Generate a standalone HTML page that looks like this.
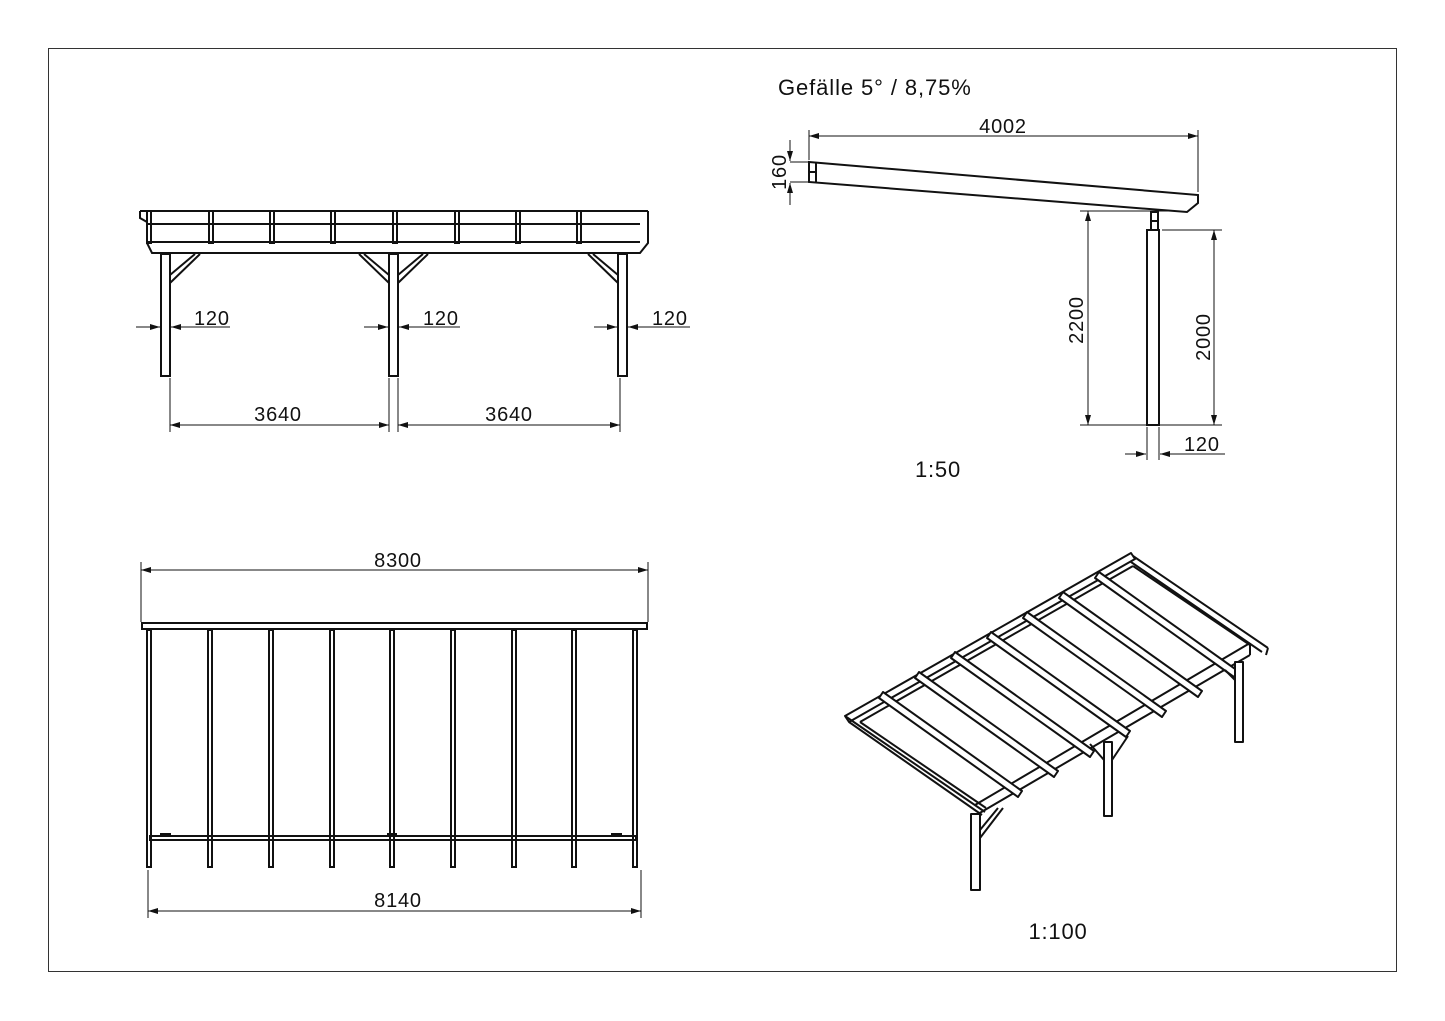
<!DOCTYPE html>
<html><head><meta charset="utf-8"><style>
html,body{margin:0;padding:0;background:#fff;}
svg{display:block;}
text{font-family:"Liberation Sans","DejaVu Sans",sans-serif;fill:#111;}
.d{font-size:20px;letter-spacing:0.8px;}
</style></head><body>
<svg width="1445" height="1021" viewBox="0 0 1445 1021" xmlns="http://www.w3.org/2000/svg">
<defs>
<marker id="ar" viewBox="0 0 10 6" refX="10" refY="3" markerWidth="10" markerHeight="6" orient="auto-start-reverse" markerUnits="userSpaceOnUse"><path d="M0,0 L10,3 L0,6 z" fill="#111"/></marker>
</defs>
<rect x="48.5" y="48.5" width="1348" height="923" fill="none" stroke="#333" stroke-width="1"/>

<!-- FRONT ELEVATION -->
<g stroke="#111" stroke-width="2" fill="none">
<path d="M140,211 H648 M140,211 L140,218 L147,222 V243 L152,253 H640 L648,243 V222 L648,211"/>
<line x1="147" y1="224" x2="640" y2="224"/>
<line x1="147" y1="242" x2="640" y2="242"/>
<line x1="152" y1="253" x2="640" y2="253"/>
<rect x="147" y="211" width="4" height="32"/>
<rect x="209" y="211" width="4" height="32"/>
<rect x="270" y="211" width="4" height="32"/>
<rect x="331" y="211" width="4" height="32"/>
<rect x="393" y="211" width="4" height="32"/>
<rect x="455" y="211" width="4" height="32"/>
<rect x="516" y="211" width="4" height="32"/>
<rect x="577" y="211" width="4" height="32"/>
<rect x="161" y="254" width="9" height="122"/>
<rect x="389" y="254" width="9" height="122"/>
<rect x="618" y="254" width="9" height="122"/>
<path d="M170,275 L195,254 M170,283 L200,254"/>
<path d="M389,275 L364,254 M389,283 L359,254 M398,275 L423,254 M398,283 L428,254"/>
<path d="M618,275 L593,254 M618,283 L588,254"/>
</g>
<g stroke="#111" stroke-width="1" fill="none">
<line x1="136" y1="327" x2="160" y2="327" marker-end="url(#ar)"/><line x1="195" y1="327" x2="171" y2="327" marker-end="url(#ar)"/><line x1="171" y1="327" x2="230" y2="327"/>
<line x1="364" y1="327" x2="388" y2="327" marker-end="url(#ar)"/><line x1="423" y1="327" x2="399" y2="327" marker-end="url(#ar)"/><line x1="399" y1="327" x2="460" y2="327"/>
<line x1="594" y1="327" x2="617" y2="327" marker-end="url(#ar)"/><line x1="652" y1="327" x2="628" y2="327" marker-end="url(#ar)"/><line x1="628" y1="327" x2="690" y2="327"/>
<line x1="170" y1="378" x2="170" y2="432"/><line x1="389" y1="378" x2="389" y2="432"/><line x1="398" y1="378" x2="398" y2="432"/><line x1="620" y1="378" x2="620" y2="432"/>
<line x1="170" y1="425" x2="389" y2="425" marker-start="url(#ar)" marker-end="url(#ar)"/>
<line x1="398" y1="425" x2="620" y2="425" marker-start="url(#ar)" marker-end="url(#ar)"/>
</g>
<text x="194" y="325" class="d">120</text>
<text x="423" y="325" class="d">120</text>
<text x="652" y="325" class="d">120</text>
<text x="278" y="421" class="d" text-anchor="middle">3640</text>
<text x="509" y="421" class="d" text-anchor="middle">3640</text>

<!-- SIDE VIEW -->
<text x="778" y="95" font-size="22" letter-spacing="0.9">Gefälle 5° / 8,75%</text>
<g stroke="#111" stroke-width="2" fill="none">
<path d="M809,162 L1198,195 L1198,203 L1187,212 L809,182 Z"/>
<line x1="816" y1="162" x2="816" y2="182"/>
<line x1="809" y1="172" x2="816" y2="172"/>
<rect x="1151" y="212" width="7" height="18"/>
<line x1="1151" y1="221" x2="1158" y2="221"/>
<rect x="1147" y="230" width="12" height="195"/>
</g>
<g stroke="#111" stroke-width="1" fill="none">
<line x1="809" y1="130" x2="809" y2="160"/><line x1="1198" y1="130" x2="1198" y2="192"/>
<line x1="809" y1="136" x2="1198" y2="136" marker-start="url(#ar)" marker-end="url(#ar)"/>
<line x1="790" y1="162" x2="808" y2="162"/><line x1="790" y1="182" x2="808" y2="182"/>
<line x1="790" y1="140" x2="790" y2="161" marker-end="url(#ar)"/><line x1="790" y1="205" x2="790" y2="183" marker-end="url(#ar)"/>
<line x1="1080" y1="211" x2="1180" y2="211"/>
<line x1="1080" y1="425" x2="1222" y2="425"/>
<line x1="1162" y1="230" x2="1222" y2="230"/>
<line x1="1088" y1="211" x2="1088" y2="425" marker-start="url(#ar)" marker-end="url(#ar)"/>
<line x1="1214" y1="230" x2="1214" y2="425" marker-start="url(#ar)" marker-end="url(#ar)"/>
<line x1="1147" y1="427" x2="1147" y2="460"/><line x1="1159" y1="427" x2="1159" y2="460"/>
<line x1="1125" y1="454" x2="1146" y2="454" marker-end="url(#ar)"/><line x1="1180" y1="454" x2="1160" y2="454" marker-end="url(#ar)"/><line x1="1160" y1="454" x2="1225" y2="454"/>
</g>
<text x="1003" y="133" class="d" text-anchor="middle">4002</text>
<text transform="translate(786,172) rotate(-90)" class="d" text-anchor="middle">160</text>
<text transform="translate(1083,320) rotate(-90)" class="d" text-anchor="middle">2200</text>
<text transform="translate(1210,337) rotate(-90)" class="d" text-anchor="middle">2000</text>
<text x="1184" y="451" class="d">120</text>
<text x="938" y="477" font-size="22" letter-spacing="0.8" text-anchor="middle">1:50</text>

<!-- PLAN VIEW -->
<g stroke="#111" stroke-width="1" fill="none">
<line x1="141" y1="562" x2="141" y2="622"/><line x1="648" y1="562" x2="648" y2="622"/>
<line x1="141" y1="570" x2="648" y2="570" marker-start="url(#ar)" marker-end="url(#ar)"/>
<line x1="148" y1="870" x2="148" y2="918"/><line x1="641" y1="870" x2="641" y2="918"/>
<line x1="148" y1="911" x2="641" y2="911" marker-start="url(#ar)" marker-end="url(#ar)"/>
</g>
<text x="398" y="567" class="d" text-anchor="middle">8300</text>
<text x="398" y="907" class="d" text-anchor="middle">8140</text>
<g stroke="#111" stroke-width="2" fill="none">
<rect x="142" y="623" width="505" height="6"/>
<rect x="150" y="836" width="486" height="4"/>
<rect x="147" y="630" width="4" height="237"/>
<rect x="208" y="630" width="4" height="237"/>
<rect x="269" y="630" width="4" height="237"/>
<rect x="330" y="630" width="4" height="237"/>
<rect x="390" y="630" width="4" height="237"/>
<rect x="451" y="630" width="4" height="237"/>
<rect x="512" y="630" width="4" height="237"/>
<rect x="572" y="630" width="4" height="237"/>
<rect x="633" y="630" width="4" height="237"/>
<rect x="161" y="834" width="9" height="2"/>
<rect x="388" y="834" width="8" height="2"/>
<rect x="612" y="834" width="9" height="2"/>
</g>

<!-- ISO VIEW -->
<g stroke="#111" stroke-width="2" fill="none" stroke-linejoin="round">
<!-- front eave beam (under rafters) -->
<path d="M975,805 L1250,643 M978,814 L1250,655 M1250,643 L1250,655"/>
<!-- back beam -->
<path d="M845,716 L1131,553 L1135,559 L849,722 Z"/>
<line x1="860" y1="722" x2="1133" y2="566"/>
<!-- end rafters -->
<path d="M845,716 L985,812 M849,722 L982,815"/>
<path d="M1133,556 L1268,648 M1131,562 L1262,652 M1268,648 L1266,655"/>
<line x1="860" y1="722" x2="986" y2="808"/>
<line x1="1133" y1="566" x2="1250" y2="645"/>
<!-- interior rafters -->
<g fill="#fff">
<path d="M879,698 L1018,797 L1022,791 L883,692 Z"/>
<path d="M915,678 L1054,777 L1058,771 L919,672 Z"/>
<path d="M951,658 L1090,757 L1094,751 L955,652 Z"/>
<path d="M987,638 L1126,737 L1130,731 L991,632 Z"/>
<path d="M1023,618 L1162,717 L1166,711 L1027,612 Z"/>
<path d="M1059,598 L1198,697 L1202,691 L1063,592 Z"/>
<path d="M1095,578 L1234,677 L1238,671 L1099,572 Z"/>
</g>
<!-- posts -->
<rect x="971" y="814" width="9" height="76" fill="#fff"/>
<rect x="1104" y="742" width="8" height="74" fill="#fff"/>
<rect x="1235" y="662" width="8" height="80" fill="#fff"/>
<path d="M980,830 L998,808 M980,838 L1003,808"/>
<path d="M1112,760 L1128,736 M1104,760 L1090,744"/>
<path d="M1235,680 L1225,670"/>
</g>
<text x="1058" y="939" font-size="22" letter-spacing="0.8" text-anchor="middle">1:100</text>
</svg>
</body></html>
